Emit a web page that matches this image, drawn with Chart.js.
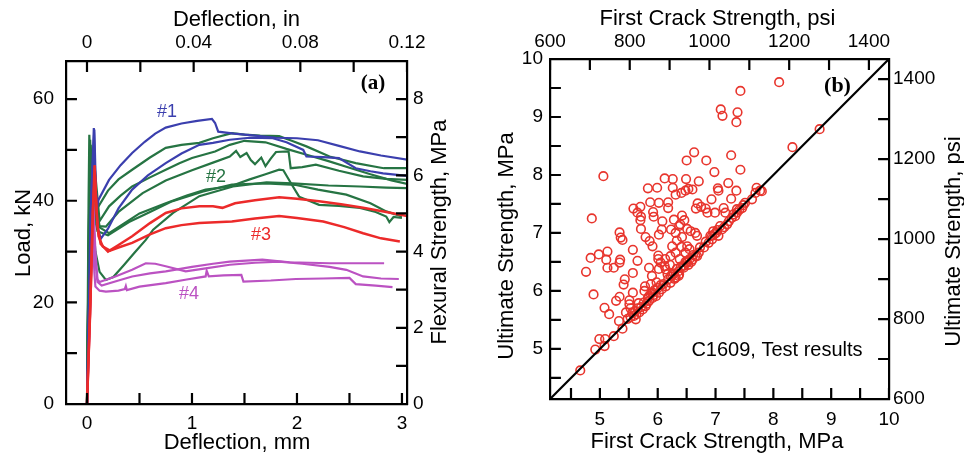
<!DOCTYPE html>
<html>
<head>
<meta charset="utf-8">
<title>Flexural test results</title>
<script src="https://cdn.jsdelivr.net/npm/chart.js@4.4.1/dist/chart.umd.min.js"></script>
<style>
  body { margin: 0; background: #fff; }
  #wrap { position: relative; width: 964px; height: 460px; overflow: hidden; }
  canvas { position: absolute; top: 0; }
  #loadChart { left: 0; }
  #strengthChart { left: 480px; }
</style>
</head>
<body>
<div id="wrap">
  <canvas id="loadChart" width="480" height="460"></canvas>
  <canvas id="strengthChart" width="484" height="460"></canvas>
</div>
<script>
const FONT = "'Liberation Sans', Arial, Helvetica, sans-serif";
const SERIF = "'Liberation Serif', 'Times New Roman', serif";
const MM_PER_IN = 25.4;
const PSI_PER_MPA = 145.038;
const KN_PER_MPA = 7.5;

// ── (a) load vs deflection curves: [deflection mm, load kN] ──
const blueA = [[0,0],[0.04,40],[0.065,54.3],[0.08,44],[0.095,38.5],[0.11,40.2],[0.21,44.1],[0.32,47],[0.43,49.4],
  [0.55,51.6],[0.65,53.2],[0.75,54.4],[0.9,55.2],[1.05,55.7],[1.19,56.1],[1.22,55.3],[1.25,53.6],[1.4,53.2],
  [1.6,52.8],[1.8,52.4],[2.0,52.3],[2.2,51.9],[2.4,50.8],[2.6,49.7],[2.8,48.9],[3.05,48.1]];
const blueB = [[0,0],[0.035,38],[0.07,54],[0.085,42],[0.1,35],[0.13,32.5],[0.2,34.5],[0.3,38.5],[0.43,42.2],
  [0.58,45],[0.75,47.4],[0.9,49.3],[1.07,51],[1.2,51.4],[1.36,52],[1.55,52.4],[1.77,52.3],[1.9,51.5],[2.06,50],
  [2.09,48.7],[2.25,48.6],[2.4,48.4],[2.56,46.4],[2.7,45.8],[2.82,45.4],[3.05,44.9]];

const greenA = [[0,0],[0.015,40],[0.022,53],[0.04,44],[0.06,49],[0.09,40],[0.11,38.9],[0.2,42],[0.3,44.2],
  [0.43,46.1],[0.6,48.5],[0.75,50.4],[0.9,51],[1.07,51.4],[1.2,52.3],[1.38,53.3],[1.5,53],[1.65,52.8],[1.83,52.7],
  [1.95,51.8],[2.09,50.7],[2.31,48.7],[2.56,47.4],[2.8,46.5],[2.83,46.4],[3.05,46.4]];
const greenB = [[0,0],[0.02,36],[0.03,52],[0.05,40],[0.08,45],[0.12,36],[0.21,38.9],[0.32,41],[0.43,42.8],
  [0.6,44.6],[0.75,46.1],[0.88,47.4],[1.0,48.4],[1.22,49.7],[1.36,51],[1.5,51.8],[1.7,51.5],[1.9,50.2],[2.1,49],
  [2.3,47.8],[2.5,46.5],[2.7,45.2],[2.9,44],[3.05,43.3]];
const greenC = [[0,0],[0.03,50],[0.06,42],[0.12,35],[0.18,34.9],[0.3,37.8],[0.53,41.5],[0.75,44],[1.0,46],
  [1.2,47.5],[1.36,48.7],[1.42,49.8],[1.46,48.6],[1.52,49.4],[1.56,48],[1.6,47.2],[1.66,48.5],[1.7,46.8],
  [1.75,48.3],[1.8,49.6],[1.92,49.7],[1.94,46.4],[2.05,46.6],[2.18,47.1],[2.4,45.9],[2.63,44.8],[2.85,44.3],[3.05,44.1]];
const greenD = [[0,0],[0.02,38],[0.035,51],[0.06,40],[0.1,35],[0.21,33.6],[0.35,35.5],[0.5,37.5],[0.75,39.5],
  [0.95,41],[1.13,42.2],[1.36,42.8],[1.55,44.2],[1.7,45.2],[1.83,46.1],[1.87,46],[1.95,43.2],[2.02,40.8],
  [2.21,39.2],[2.4,39],[2.6,38.6],[2.75,37.8],[2.85,36.9],[2.88,35.8],[2.92,36.8],[3.0,36.6]];
const greenE = [[0,0],[0.03,48],[0.06,38],[0.1,34],[0.2,33.2],[0.4,35.8],[0.6,37.8],[0.8,39.8],[1.1,41.8],
  [1.38,43.2],[1.7,43.4],[1.99,43.1],[2.2,42.2],[2.47,41.2],[2.7,39.5],[2.85,37.9],[3.0,36.9]];
const greenF = [[0,0],[0.025,47],[0.05,38],[0.08,30],[0.12,26],[0.18,24.4],[0.25,25],[0.35,27.3],[0.45,29.7],
  [0.56,32.3],[0.63,34.3],[0.82,37.6],[1.07,40.9],[1.39,42.8],[1.71,43.6],[1.96,43.4],[2.3,43],[2.6,42.8],
  [2.85,42.6],[3.05,42.5]];

const redA = [[0,0],[0.035,22],[0.06,40],[0.072,47],[0.085,41],[0.1,35],[0.13,31.5],[0.2,30],[0.3,31.3],
  [0.43,33],[0.6,35.6],[0.75,37.6],[0.9,38.5],[1.07,38.9],[1.2,38.9],[1.29,38.6],[1.41,39.5],[1.6,40.1],
  [1.83,40.7],[2.0,40.4],[2.21,39.9],[2.42,39.3],[2.63,38.6],[2.85,37.8],[3.07,36.9]];
const redB = [[0,0],[0.03,18],[0.055,38],[0.075,45],[0.09,38],[0.11,33],[0.15,31],[0.22,30.2],[0.3,30.8],
  [0.43,31.7],[0.6,33.4],[0.75,34.6],[0.9,35.2],[1.07,35.6],[1.38,35.9],[1.6,36.5],[1.83,37],[2.0,36.6],
  [2.25,35.9],[2.45,34.8],[2.63,33.6],[2.8,32.6],[2.98,32]];

const magentaA = [[0,0],[0.03,20],[0.06,40],[0.08,30],[0.1,24.5],[0.12,24],[0.27,25.1],[0.43,26.4],[0.56,27.7],
  [0.65,27.6],[0.75,27.1],[0.94,26.1],[1.13,26.7],[1.36,27.4],[1.6,27.8],[1.83,28],[2.05,27.6],[2.31,27],
  [2.47,26.4],[2.63,25.1],[2.8,24.7],[2.97,24.6]];
const magentaB = [[0,0],[0.03,20],[0.06,38],[0.08,28],[0.1,24],[0.14,23.3],[0.3,24.3],[0.43,25.1],[0.6,25.7],
  [0.75,26.1],[1.0,27],[1.2,27.6],[1.36,28],[1.67,28.4],[1.93,27.9],[2.31,27.7],[2.83,27.7]];
const magentaC = [[0,0],[0.03,18],[0.05,36],[0.07,26],[0.08,23.1],[0.12,22.3],[0.18,22.1],[0.3,22.3],[0.36,22.6],
  [0.37,23.2],[0.38,22.4],[0.5,23.1],[0.75,23.8],[0.95,24.5],[1.13,25.1],[1.14,26.2],[1.16,25.1],[1.3,25.3],
  [1.47,25.4],[1.49,24.1],[1.75,24.3],[1.99,24.6],[2.25,24.7],[2.5,24.8],[2.56,23.6],[2.75,23.3],[2.91,23]];

const mmTicks = [0, 0.5, 1, 1.5, 2, 2.5, 3];
const mmLabels = [0, 1, 2, 3];
const inTicks = [0, 0.02, 0.04, 0.06, 0.08, 0.1, 0.12];
const inLabels = [0, 0.04, 0.08, 0.12];
const kNTicks = [0, 10, 20, 30, 40, 50, 60];
const kNLabels = [0, 20, 40, 60];
const flexTicks = [0, 1, 2, 3, 4, 5, 6, 7, 8, 9];
const flexLabels = [0, 2, 4, 6, 8];

// ── (b) ultimate vs first crack strength, MPa ──
const firstCrackMPa = [
  8.10, 7.43, 7.09, 7.12, 7.38, 7.36, 8.80, 8.33, 7.27, 6.63, 6.50, 6.84, 7.43, 6.98, 5.06, 6.12, 6.26, 6.49,
  6.71, 7.22, 5.83, 5.99, 6.26, 6.53, 7.04, 7.05, 7.36, 6.48, 6.60, 6.31, 6.41, 7.71, 7.77, 7.69, 7.27, 6.93,
  5.87, 6.02, 6.18, 6.18, 5.70, 5.58, 5.65, 5.71, 5.70, 5.92, 5.93, 6.69, 6.66, 6.75, 6.83, 6.86, 6.99, 7.14,
  7.17, 7.37, 7.34, 4.86, 6.42, 6.46, 6.39, 6.28, 6.08, 6.07, 6.23, 6.31, 6.37, 6.51, 6.57, 6.65, 6.68, 6.02,
  5.71, 5.79, 5.34, 5.36, 5.39, 5.86, 5.91, 6.42, 6.33, 6.25, 6.41, 6.51, 6.48, 6.96, 7.01, 6.94, 7.05, 5.57,
  5.13, 4.98, 4.84, 5.11, 5.35, 5.34, 5.65, 6.01, 6.05, 6.12, 6.22, 6.31, 6.14, 6.02, 5.85, 6.01, 5.13, 5.24,
  4.76, 5.57, 5.43, 5.41, 5.90, 6.17, 6.25, 6.36, 6.29, 6.49, 6.60, 6.68, 6.44, 6.36, 4.89, 5.57, 5.34, 5.28,
  5.08, 5.16, 5.51, 5.51, 5.45, 5.67, 5.77, 5.91, 5.85, 5.39, 5.33, 5.59, 5.62, 5.68, 5.74, 5.79, 5.85, 5.91,
  5.97, 6.02, 6.07, 6.14, 6.22, 6.31, 6.37, 6.45, 6.51, 6.65, 6.71, 6.80, 6.88, 6.94, 7.11, 7.20, 7.28, 7.37,
  7.46, 7.51, 7.63, 7.80, 4.66, 4.92, 4.99, 5.08, 5.09, 5.24, 5.53, 5.56, 5.63, 5.65, 5.71, 5.76, 5.81, 5.83,
  5.88, 5.93, 5.95, 6.00, 6.05, 6.10, 6.18, 6.23, 6.28, 6.33, 6.40, 6.48, 6.55, 6.58, 6.53, 6.61, 6.73, 6.83,
  6.91, 6.98, 7.03, 7.08, 7.15, 7.23, 7.31, 7.41, 7.48, 5.78, 5.88, 5.98, 6.21, 6.13, 6.38, 6.55, 5.48, 5.53,
  5.61];
const ultimateMPa = [
  9.60, 9.45, 9.13, 9.02, 9.08, 8.91, 8.79, 8.48, 8.34, 8.39, 8.25, 8.25, 8.09, 8.05, 7.98, 7.94, 7.93, 7.93,
  7.89, 7.86, 7.77, 7.78, 7.78, 7.76, 7.77, 7.73, 7.73, 7.73, 7.75, 7.66, 7.69, 7.78, 7.73, 7.69, 7.59, 7.58,
  7.53, 7.52, 7.53, 7.43, 7.45, 7.42, 7.35, 7.28, 7.22, 7.36, 7.28, 7.51, 7.42, 7.45, 7.42, 7.35, 7.35, 7.43,
  7.35, 7.41, 7.29, 7.25, 7.30, 7.22, 7.15, 7.23, 7.20, 7.06, 7.06, 7.00, 7.12, 7.07, 7.03, 7.00, 6.95, 6.97,
  7.07, 6.93, 7.01, 6.92, 6.88, 6.86, 6.77, 6.93, 6.87, 6.77, 6.76, 6.77, 6.66, 7.03, 7.00, 6.95, 6.95, 6.71,
  6.68, 6.63, 6.57, 6.54, 6.54, 6.49, 6.52, 6.61, 6.49, 6.43, 6.60, 6.66, 6.37, 6.38, 6.40, 6.55, 6.40, 6.40,
  6.33, 6.31, 6.20, 6.11, 6.26, 6.29, 6.29, 6.26, 6.21, 6.49, 6.54, 6.60, 6.43, 6.34, 5.94, 5.97, 5.90, 5.83,
  5.71, 5.60, 5.84, 5.77, 5.63, 5.79, 6.00, 5.97, 5.91, 5.35, 5.48, 5.57, 5.51, 5.63, 5.68, 5.74, 5.83, 5.88,
  5.91, 5.97, 6.03, 6.08, 6.14, 6.23, 6.29, 6.40, 6.49, 6.60, 6.66, 6.75, 6.83, 6.89, 7.06, 7.15, 7.26, 7.35,
  7.43, 7.52, 7.58, 7.72, 4.63, 4.99, 5.17, 5.05, 5.17, 5.22, 5.55, 5.62, 5.60, 5.70, 5.72, 5.80, 5.78, 5.88,
  5.95, 5.93, 6.02, 6.05, 6.10, 6.12, 6.20, 6.25, 6.30, 6.38, 6.42, 6.50, 6.55, 6.50, 6.45, 6.62, 6.75, 6.85,
  6.95, 6.98, 7.05, 7.12, 7.10, 7.20, 7.32, 7.40, 7.48, 6.08, 6.12, 6.15, 6.45, 6.55, 6.55, 6.72, 5.52, 5.70,
  5.65];

const mpaTicks = [4.5, 5, 5.5, 6, 6.5, 7, 7.5, 8, 8.5, 9, 9.5, 10];
const mpaLabels = [5, 6, 7, 8, 9, 10];
const psiTicks = [600, 700, 800, 900, 1000, 1100, 1200, 1300, 1400];
const psiLabels = [600, 800, 1000, 1200, 1400];

// ── Helpers ──────────────────────────────────────────────────
// tick marks reach about 11 px into a ~342 px plot
const TICK_FRAC = 11 / 342;
const isLabelled = (labelVals, v) => labelVals.some(l => Math.abs(l - v) < 1e-9);

function linearAxis(position, min, max, tickVals, labelVals, fmt, o) {
  return {
    type: 'linear',
    position,
    min,
    max,
    bounds: 'data',
    grid: { display: false, drawTicks: false },
    border: { display: true, color: '#000', width: 2.2, z: 1 },
    afterBuildTicks: s => { s.ticks = tickVals.map(v => ({ value: v })); },
    afterFit: s => {
      if (position === 'left' || position === 'right') s.width = o.size;
      else s.height = o.size;
    },
    ticks: {
      autoSkip: false,
      maxRotation: 0,
      minRotation: 0,
      padding: o.pad,
      color: '#000',
      font: { family: FONT, size: o.font },
      callback: v => isLabelled(labelVals, v) ? fmt(v) : ''
    }
  };
}

// inward tick marks as short line segments, broken apart by null points
function tickMarks(vals, horizontal, from, depth) {
  const pts = vals.flatMap(v => horizontal
    ? [{ x: v, y: from }, { x: v, y: from + depth }, { x: v, y: null }]
    : [{ x: from, y: v }, { x: from + depth, y: v }, { x: null, y: v }]);
  return {
    type: 'line',
    data: pts,
    borderColor: '#000',
    borderWidth: 2.2,
    pointRadius: 0,
    showLine: true,
    spanGaps: false,
    fill: false
  };
}

// axis titles and panel annotations
function panelText(items) {
  return {
    id: 'panelText',
    afterDraw(chart) {
      const ctx = chart.ctx;
      items.forEach(it => {
        ctx.save();
        ctx.translate(it.x, it.y);
        if (it.rotate) ctx.rotate(it.rotate * Math.PI / 180);
        ctx.font = it.font;
        ctx.fillStyle = it.color || '#000';
        ctx.textAlign = 'center';
        ctx.textBaseline = 'middle';
        ctx.fillText(it.text, 0, 0);
        ctx.restore();
      });
    }
  };
}

const curve = (pts, color, width) => ({
  type: 'line',
  data: pts.map(([x, y]) => ({ x, y })),
  borderColor: color,
  borderWidth: width || 2.2,
  pointRadius: 0,
  fill: false,
  tension: 0
});

const BLUE = '#3b3fae';
const GREEN = '#267443';
const RED = '#ec2a2a';
const MAGENTA = '#bb52c2';

// ── Panel (a) ────────────────────────────────────────────────
const A_XMIN = -0.2, A_XMAX = 0.12 * MM_PER_IN;
const A_YMIN = 0, A_YMAX = 67.5;
const aDx = (A_XMAX - A_XMIN) * TICK_FRAC;
const aDy = (A_YMAX - A_YMIN) * TICK_FRAC;

new Chart(document.getElementById('loadChart'), {
  type: 'line',
  data: {
    datasets: [
      tickMarks(mmTicks, true, A_YMIN, aDy),
      tickMarks(inTicks.map(v => v * MM_PER_IN), true, A_YMAX, -aDy),
      tickMarks(kNTicks, false, A_XMIN, aDx),
      tickMarks(flexTicks.map(v => v * KN_PER_MPA), false, A_XMAX, -aDx),
      curve(redA, RED, 2.5), curve(redB, RED, 2.5),
      curve(blueA, BLUE), curve(blueB, BLUE),
      curve(magentaA, MAGENTA), curve(magentaB, MAGENTA), curve(magentaC, MAGENTA),
      curve(greenA, GREEN), curve(greenB, GREEN), curve(greenC, GREEN),
      curve(greenD, GREEN), curve(greenE, GREEN), curve(greenF, GREEN)
    ]
  },
  options: {
    responsive: false,
    animation: false,
    layout: { padding: 0 },
    plugins: { legend: { display: false }, tooltip: { enabled: false } },
    scales: {
      x: linearAxis('bottom', A_XMIN, A_XMAX, mmTicks, mmLabels, v => String(v), { font: 19, size: 56, pad: 8 }),
      x2: linearAxis('top', A_XMIN / MM_PER_IN, 0.12, inTicks, inLabels, v => v === 0 ? '0' : v.toFixed(2), { font: 19, size: 61, pad: 7 }),
      y: linearAxis('left', A_YMIN, A_YMAX, kNTicks, kNLabels, v => String(v), { font: 19, size: 66, pad: 12 }),
      y2: linearAxis('right', 0, A_YMAX / KN_PER_MPA, flexTicks, flexLabels, v => String(v), { font: 19, size: 73, pad: 6 })
    }
  },
  plugins: [
    panelText([
      { text: 'Deflection, in', x: 236.5, y: 20, font: `22px ${FONT}` },
      { text: 'Deflection, mm', x: 237, y: 443, font: `22px ${FONT}` },
      { text: 'Load, kN', x: 24, y: 233, rotate: -90, font: `22px ${FONT}` },
      { text: 'Flexural Strength, MPa', x: 440, y: 232, rotate: -90, font: `22px ${FONT}` },
      { text: '(a)', x: 373, y: 84, font: `bold 21px ${SERIF}` },
      { text: '#1', x: 167, y: 112, color: BLUE, font: `18px ${FONT}` },
      { text: '#2', x: 216, y: 177, color: GREEN, font: `18px ${FONT}` },
      { text: '#3', x: 261, y: 235, color: RED, font: `18px ${FONT}` },
      { text: '#4', x: 189, y: 294, color: MAGENTA, font: `18px ${FONT}` }
    ])
  ]
});

// ── Panel (b) ────────────────────────────────────────────────
const LO = 600 / PSI_PER_MPA;
const HI_PSI = 10 * PSI_PER_MPA;
const bD = (10 - LO) * TICK_FRAC;
const psiInMPa = psiTicks.map(v => v / PSI_PER_MPA);

new Chart(document.getElementById('strengthChart'), {
  type: 'scatter',
  data: {
    datasets: [
      tickMarks(mpaTicks, true, LO, bD),
      tickMarks(psiInMPa, true, 10, -bD),
      tickMarks(mpaTicks, false, LO, bD),
      tickMarks(psiInMPa, false, 10, -bD),
      {
        type: 'line',
        data: [{ x: LO, y: LO }, { x: 10, y: 10 }],
        borderColor: '#000',
        borderWidth: 2.2,
        pointRadius: 0,
        showLine: true
      },
      {
        data: firstCrackMPa.map((x, i) => ({ x, y: ultimateMPa[i] })),
        pointStyle: 'circle',
        pointRadius: 4.3,
        pointBorderWidth: 1.6,
        borderColor: '#e8352d',
        backgroundColor: 'rgba(0,0,0,0)'
      }
    ]
  },
  options: {
    responsive: false,
    animation: false,
    layout: { padding: 0 },
    plugins: { legend: { display: false }, tooltip: { enabled: false } },
    scales: {
      x: linearAxis('bottom', LO, 10, mpaTicks, mpaLabels, v => String(v), { font: 19, size: 61, pad: 9 }),
      x2: linearAxis('top', 600, HI_PSI, psiTicks, psiLabels, v => String(v), { font: 19, size: 59, pad: 6 }),
      y: linearAxis('left', LO, 10, mpaTicks, mpaLabels, v => String(v), { font: 19, size: 70, pad: 7 }),
      y2: linearAxis('right', 600, HI_PSI, psiTicks, psiLabels, v => String(v), { font: 19, size: 75, pad: 4 })
    }
  },
  plugins: [
    panelText([
      { text: 'First Crack Strength, psi', x: 237.5, y: 19, font: `22px ${FONT}` },
      { text: 'First Crack Strength, MPa', x: 237, y: 442, font: `22px ${FONT}` },
      { text: 'Ultimate Strength, MPa', x: 26.5, y: 246, rotate: -90, font: `22px ${FONT}` },
      { text: 'Ultimate Strength, psi', x: 474, y: 241.5, rotate: -90, font: `22px ${FONT}` },
      { text: '(b)', x: 357.5, y: 86, font: `bold 22px ${SERIF}` },
      { text: 'C1609, Test results', x: 297, y: 350, font: `20px ${FONT}` }
    ])
  ]
});
</script>
</body>
</html>
